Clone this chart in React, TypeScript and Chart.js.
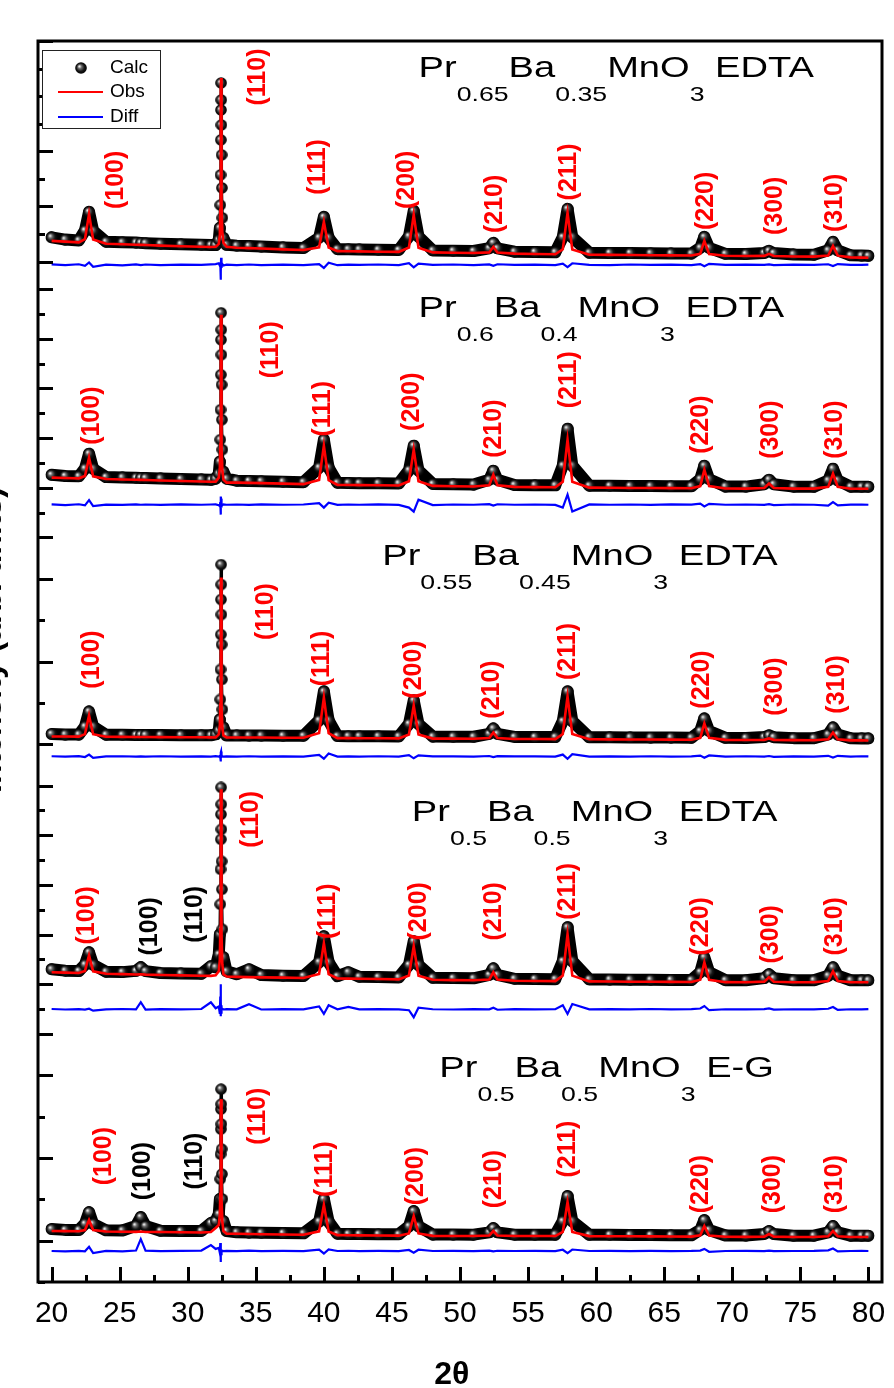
import { useEffect, useRef } from 'react';
import { Chart, registerables } from 'chart.js';

Chart.register(...registerables);

// ---------- shared 2-theta grid ----------
const twoTheta = [
  20.0, 21.0, 22.0, 22.45, 22.75, 23.05, 24.0, 25.2, 26.2, 26.55,
  26.9, 28.0, 29.5, 31.0, 31.7, 32.05, 32.28, 32.36, 32.39, 32.41,
  32.43, 32.44, 32.45, 32.46, 32.47, 32.49, 32.51, 32.54, 32.62, 32.85,
  33.6, 34.5, 35.4, 37.0, 38.5, 39.65, 40.0, 40.35, 41.0, 41.8,
  42.6, 44.0, 45.5, 46.25, 46.6, 46.95, 48.0, 49.5, 51.0, 52.15,
  52.45, 52.75, 54.0, 55.5, 57.0, 57.55, 57.9, 58.25, 59.5, 61.0,
  62.5, 64.0, 65.5, 67.0, 67.65, 67.95, 68.3, 69.5, 71.0, 72.35,
  72.7, 73.05, 74.5, 76.0, 77.05, 77.4, 77.75, 78.7, 79.5, 80.0,
];

// ---------- Panel 1: Pr0.65Ba0.35MnO3 EDTA ----------
const calcP1 = [
  880, 800, 770, 1130, 1804, 1115, 720, 700, 690, 680,
  670, 650, 630, 610, 600, 600, 790, 1225, 2050, 3145,
  4413, 5500, 6478, 5862, 4956, 3869, 2674, 1587, 862, 610,
  580, 565, 545, 515, 490, 870, 1623, 862, 452, 448,
  440, 432, 422, 918, 1840, 913, 405, 392, 385, 485,
  681, 481, 362, 350, 340, 889, 1913, 884, 322, 315,
  310, 304, 298, 292, 503, 899, 499, 282, 276, 313,
  391, 310, 262, 252, 410, 717, 406, 228, 218, 210,
];
const obsP1 = [
  754, 725, 699, 815, 1732, 805, 650, 630, 612, 606,
  600, 580, 560, 540, 530, 536, 645, 971, 1877, 3507,
  5319, 6297, 6659, 6152, 5138, 3507, 2058, 1080, 681, 536,
  505, 490, 475, 445, 420, 520, 1442, 510, 382, 376,
  370, 360, 352, 510, 1696, 505, 335, 322, 312, 334,
  536, 330, 290, 278, 268, 446, 1768, 441, 250, 243,
  238, 232, 227, 220, 282, 754, 279, 211, 205, 208,
  283, 206, 188, 180, 220, 572, 216, 155, 145, 138,
];
const diffP1 = [
  -100, -130, -95, -150, -30, -190, -110, -135, -100, -125,
  -105, -130, -110, -120, -100, -90, -60, -150, -40, -260,
  -659, -380, 138, -50, -230, -90, -160, -80, -140, -110,
  -125, -105, -130, -110, -125, -90, -230, -40, -130, -110,
  -120, -105, -125, -60, -210, -70, -120, -105, -125, -100,
  -150, -95, -120, -110, -125, -70, -200, -60, -115, -125,
  -105, -120, -110, -125, -90, -170, -80, -120, -110, -120,
  -100, -130, -110, -120, -95, -160, -90, -115, -120, -110,
];

// ---------- Panel 2: Pr0.6Ba0.4MnO3 EDTA ----------
const calcP2 = [
  2520, 2475, 2460, 2775, 3374, 2765, 2430, 2415, 2402, 2398,
  2392, 2375, 2352, 2335, 2320, 2367, 2569, 3052, 3937, 5145,
  6554, 7963, 9050, 8366, 7359, 6151, 4742, 3535, 2649, 2367,
  2285, 2276, 2266, 2245, 2225, 2816, 3937, 2808, 2198, 2192,
  2185, 2180, 2173, 2704, 3696, 2700, 2156, 2142, 2130, 2321,
  2689, 2318, 2115, 2106, 2098, 2895, 4380, 2891, 2084, 2078,
  2072, 2068, 2064, 2060, 2350, 2891, 2347, 2050, 2046, 2144,
  2327, 2143, 2045, 2044, 2297, 2770, 2296, 2042, 2041, 2040,
];
const obsP2 = [
  2407, 2393, 2380, 2472, 3213, 2462, 2350, 2335, 2322, 2318,
  2312, 2295, 2272, 2255, 2240, 2247, 2407, 2810, 3736, 5548,
  7560, 8688, 8970, 8567, 7560, 5548, 3736, 2730, 2327, 2206,
  2205, 2196, 2186, 2165, 2145, 2318, 3696, 2310, 2118, 2112,
  2105, 2100, 2093, 2262, 3535, 2258, 2076, 2062, 2050, 2101,
  2528, 2098, 2035, 2026, 2018, 2245, 3937, 2241, 2004, 1998,
  1992, 1988, 1984, 1980, 2068, 2730, 2065, 1970, 1966, 1989,
  2166, 1988, 1965, 1964, 2036, 2569, 2035, 1962, 1961, 1960,
];
const diffP2 = [
  1330, 1300, 1335, 1290, 1500, 1260, 1320, 1310, 1330, 1315,
  1325, 1310, 1330, 1315, 1325, 1330, 1300, 1250, 1420, 1100,
  918, 1643, 1560, 1200, 1380, 1290, 1350, 1300, 1330, 1315,
  1325, 1310, 1330, 1315, 1325, 1380, 1200, 1400, 1310, 1325,
  1315, 1330, 1310, 1200, 1039, 1522, 1300, 1325, 1315, 1340,
  1280, 1335, 1315, 1325, 1310, 1200, 1723, 1039, 1330, 1315,
  1325, 1310, 1330, 1320, 1360, 1250, 1350, 1315, 1325, 1310,
  1340, 1300, 1325, 1315, 1280, 1420, 1290, 1320, 1325, 1315,
];

// ---------- Panel 3: Pr0.55Ba0.45MnO3 EDTA ----------
const calcP3 = [
  500, 470, 466, 857, 1585, 853, 457, 453, 449, 447,
  445, 442, 438, 433, 430, 473, 667, 1198, 2164, 3614,
  5304, 6995, 8686, 7720, 6270, 4821, 3131, 1681, 812, 425,
  425, 422, 419, 413, 407, 1155, 2551, 1149, 393, 390,
  387, 383, 378, 985, 2116, 983, 370, 366, 362, 501,
  763, 499, 353, 349, 345, 1116, 2551, 1114, 337, 333,
  329, 325, 321, 316, 641, 1246, 639, 309, 305, 345,
  425, 343, 295, 291, 472, 812, 470, 285, 283, 281,
];
const obsP3 = [
  377, 373, 369, 489, 1391, 485, 360, 356, 352, 350,
  348, 345, 341, 336, 333, 329, 473, 908, 1923, 4097,
  6512, 7720, 8058, 7478, 6029, 3855, 1923, 812, 425, 329,
  328, 325, 322, 316, 310, 539, 2261, 533, 296, 293,
  290, 286, 281, 470, 1874, 468, 273, 269, 265, 299,
  570, 297, 256, 252, 248, 494, 2309, 492, 240, 236,
  232, 228, 224, 219, 312, 1005, 310, 212, 208, 213,
  280, 211, 198, 194, 237, 570, 235, 188, 186, 184,
];
const diffP3 = [
  -580, -600, -575, -620, -500, -660, -590, -580, -600, -585,
  -595, -580, -600, -585, -595, -580, -600, -560, -640, -700,
  -831, -400, -348, -520, -660, -560, -610, -575, -600, -585,
  -595, -580, -600, -585, -595, -520, -700, -450, -600, -585,
  -595, -580, -600, -530, -680, -540, -590, -585, -595, -570,
  -620, -575, -590, -585, -595, -500, -700, -480, -600, -585,
  -595, -580, -600, -585, -550, -650, -540, -595, -580, -600,
  -570, -610, -585, -595, -560, -640, -560, -595, -580, -590,
];

// ---------- Panel 4: Pr0.5Ba0.5MnO3 EDTA ----------
const calcP4 = [
  2600, 2545, 2530, 2788, 3285, 2780, 2500, 2485, 2535, 2681,
  2527, 2450, 2432, 2420, 2722, 2681, 3205, 4010, 5218, 6627,
  7835, 8841, 9928, 9244, 8237, 6949, 5821, 4211, 3084, 2520,
  2400, 2601, 2370, 2342, 2330, 2886, 3929, 2879, 2320, 2480,
  2300, 2285, 2272, 2778, 3728, 2774, 2255, 2244, 2235, 2373,
  2641, 2370, 2218, 2210, 2202, 2933, 4292, 2929, 2192, 2186,
  2180, 2176, 2172, 2166, 2486, 3084, 2484, 2160, 2158, 2242,
  2399, 2240, 2157, 2157, 2340, 2681, 2338, 2157, 2157, 2157,
];
const obsP4 = [
  2480, 2465, 2450, 2527, 3164, 2519, 2420, 2405, 2392, 2400,
  2384, 2370, 2352, 2336, 2335, 2359, 2520, 3003, 4211, 6627,
  8841, 9727, 9848, 9526, 8237, 6023, 4010, 2802, 2399, 2310,
  2295, 2285, 2275, 2262, 2250, 2411, 3648, 2404, 2230, 2222,
  2215, 2205, 2192, 2347, 3527, 2343, 2175, 2164, 2155, 2188,
  2480, 2185, 2138, 2130, 2122, 2347, 4010, 2343, 2112, 2106,
  2100, 2096, 2092, 2086, 2180, 2883, 2178, 2080, 2078, 2101,
  2279, 2100, 2077, 2077, 2130, 2520, 2130, 2077, 2077, 2077,
];
const diffP4 = [
  1000, 980, 995, 975, 1010, 930, 985, 1000, 985, 1272,
  975, 995, 985, 1000, 1272, 1030, 1100, 800, 1500, 709,
  1997, 1300, 850, 1150, 900, 1050, 960, 1010, 980, 995,
  985, 1192, 980, 995, 985, 1100, 800, 1150, 990, 1080,
  985, 995, 985, 950, 668, 1050, 990, 980, 995, 985,
  1050, 970, 995, 985, 995, 1150, 800, 1200, 985, 995,
  985, 1000, 985, 995, 1020, 1120, 950, 990, 985, 995,
  1020, 975, 990, 985, 1010, 1080, 960, 990, 985, 995,
];

// ---------- Panel 5: Pr0.5Ba0.5MnO3 E-G ----------
const calcP5 = [
  560, 520, 512, 815, 1382, 810, 500, 492, 714, 1140,
  710, 474, 465, 470, 850, 947, 1285, 2010, 2976, 4179,
  5391, 6358, 7324, 6599, 5633, 4425, 3217, 2010, 947, 464,
  400, 390, 380, 365, 352, 926, 2010, 918, 330, 325,
  320, 312, 305, 696, 1430, 694, 295, 292, 290, 400,
  609, 400, 288, 288, 288, 941, 2155, 940, 284, 280,
  276, 271, 266, 261, 517, 995, 513, 251, 246, 320,
  464, 318, 240, 240, 403, 705, 402, 240, 240, 240,
];
const obsP5 = [
  464, 458, 452, 514, 995, 509, 440, 432, 425, 440,
  421, 414, 405, 395, 420, 609, 754, 1285, 2251, 3942,
  5874, 6696, 6841, 6454, 5391, 3701, 2010, 947, 464, 335,
  330, 320, 312, 300, 288, 450, 1720, 442, 265, 260,
  255, 248, 240, 350, 1188, 348, 230, 226, 224, 251,
  464, 251, 222, 222, 222, 418, 1865, 417, 218, 214,
  210, 205, 200, 195, 254, 705, 250, 185, 180, 193,
  319, 192, 174, 174, 209, 464, 208, 174, 174, 174,
];
const diffP5 = [
  -500, -520, -495, -515, -300, -600, -500, -515, -480, 77,
  -480, -505, -495, -480, -213, -400, -350, -600, -116, -300,
  -1034, -400, -650, -450, -560, -480, -520, -490, -505, -495,
  -505, -480, -505, -495, -505, -440, -620, -420, -500, -490,
  -505, -495, -505, -450, -580, -440, -500, -495, -505, -480,
  -520, -490, -500, -495, -505, -440, -600, -430, -500, -495,
  -505, -495, -505, -495, -480, -400, -540, -500, -495, -505,
  -480, -510, -500, -495, -470, -380, -520, -500, -495, -500,
];

// ---------- axes / ticks ----------
const xTickValues = [20, 25, 30, 35, 40, 45, 50, 55, 60, 65, 70, 75, 80];
const xMinorValues = [22.5, 27.5, 32.5, 37.5, 42.5, 47.5, 52.5, 57.5, 62.5, 67.5, 72.5, 77.5];
const panelRanges = [[-1000, 8000], [0, 10000], [-2000, 10000], [0, 10000], [-2000, 10000]];
const panelMinor = [1000, 1000, 2000, 1000, 2000];
const panelMajor = [2000, 2000, 4000, 2000, 4000];

// ---------- texts ----------
const titleP1 = ['Pr', '0.65', 'Ba', '0.35', 'MnO', '3', ' EDTA'];
const titleP2 = ['Pr', '0.6', 'Ba', '0.4', 'MnO', '3', ' EDTA'];
const titleP3 = ['Pr', '0.55', 'Ba', '0.45', 'MnO', '3', ' EDTA'];
const titleP4 = ['Pr', '0.5', 'Ba', '0.5', 'MnO', '3', ' EDTA'];
const titleP5 = ['Pr', '0.5', 'Ba', '0.5', 'MnO', '3', ' E-G'];
const titleX = [46.96, 46.96, 44.29, 46.46, 48.48];
const titleY = [6706, 8889, 8686, 8559, 7904];

const hklText = ['(100)', '(110)', '(111)', '(200)', '(210)', '(211)', '(220)', '(300)', '(310)'];
const hklXP1 = [24.77, 35.18, 39.59, 46.10, 52.60, 58.02, 68.07, 73.13, 77.54];
const hklYP1 = [2964, 6695, 3435, 2964, 2094, 3253, 2203, 2022, 2130];
const hklXP2 = [22.96, 36.12, 39.95, 46.46, 52.53, 58.02, 67.71, 72.84, 77.54];
const hklYP2 = [4904, 7561, 5185, 5467, 4380, 6353, 4541, 4340, 4340];
const hklXP3 = [22.96, 35.76, 39.88, 46.60, 52.39, 57.95, 67.78, 73.13, 77.69];
const hklYP3 = [4096, 6415, 4145, 3614, 2647, 4483, 3130, 2792, 2889];
const hklXP4 = [22.60, 34.68, 40.31, 46.96, 52.53, 57.95, 67.71, 72.84, 77.54];
const hklYP4 = [4775, 8640, 4936, 4936, 4936, 5741, 4332, 4010, 4332];
const hklXP5 = [23.83, 35.18, 40.10, 46.75, 52.53, 57.95, 67.71, 72.99, 77.54];
const hklYP5 = [4087, 6019, 3459, 3121, 2976, 4425, 2734, 2734, 2734];

const secText = ['(100)', '(110)'];
const secXP4 = [27.23, 30.55];
const secYP4 = [4332, 4815];
const secXP5 = [26.72, 30.55];
const secYP5 = [3362, 3845];

const legendLabels = ['Calc', 'Obs', 'Diff'];
const xTitle = '2θ';
const yTitle = 'Intensity (arb. units)';

const FONT = '"Liberation Sans", Arial, sans-serif';

const panels = [
  { id: 'yP1', calc: calcP1, obs: obsP1, diff: diffP1, title: titleP1, hx: hklXP1, hy: hklYP1, sx: [] as number[], sy: [] as number[] },
  { id: 'yP2', calc: calcP2, obs: obsP2, diff: diffP2, title: titleP2, hx: hklXP2, hy: hklYP2, sx: [] as number[], sy: [] as number[] },
  { id: 'yP3', calc: calcP3, obs: obsP3, diff: diffP3, title: titleP3, hx: hklXP3, hy: hklYP3, sx: [] as number[], sy: [] as number[] },
  { id: 'yP4', calc: calcP4, obs: obsP4, diff: diffP4, title: titleP4, hx: hklXP4, hy: hklYP4, sx: secXP4, sy: secYP4 },
  { id: 'yP5', calc: calcP5, obs: obsP5, diff: diffP5, title: titleP5, hx: hklXP5, hy: hklYP5, sx: secXP5, sy: secYP5 },
];

function makeSphere(): HTMLCanvasElement {
  const c = document.createElement('canvas');
  c.width = 12;
  c.height = 12;
  const g = c.getContext('2d')!;
  const grad = g.createRadialGradient(4.3, 4.3, 0.4, 6, 6, 6);
  grad.addColorStop(0, '#f0f0f0');
  grad.addColorStop(0.28, '#6a6a6a');
  grad.addColorStop(0.65, '#151515');
  grad.addColorStop(1, '#000');
  g.fillStyle = grad;
  g.beginPath();
  g.arc(6, 6, 5.8, 0, Math.PI * 2);
  g.fill();
  return c;
}

export default function App() {
  const ref = useRef<HTMLCanvasElement>(null);

  useEffect(() => {
    const sphere = makeSphere();
    const toXY = (arr: number[]) => twoTheta.map((x, i) => ({ x, y: arr[i] }));

    const datasets: any[] = [];
    const scales: any = {
      x: {
        type: 'linear',
        min: 19,
        max: 81,
        grid: { display: false, drawTicks: false, tickLength: 0 },
        border: { display: false },
        afterBuildTicks: (axis: any) => {
          axis.ticks = xTickValues.map((v) => ({ value: v }));
        },
        ticks: {
          color: '#000',
          font: { family: FONT, size: 30 },
          padding: 14,
          maxRotation: 0,
          autoSkip: false,
        },
      },
    };

    panels.forEach((p, k) => {
      const [lo, hi] = panelRanges[k];
      const s = hi - lo;
      scales[p.id] = {
        type: 'linear',
        display: false,
        position: 'left',
        min: lo - (4 - k) * s,
        max: hi + k * s,
      };
      datasets.push({
        label: 'Obs',
        data: toXY(p.obs),
        yAxisID: p.id,
        borderColor: '#ff0000',
        borderWidth: 2.6,
        pointRadius: 0,
        tension: 0,
        order: 0,
      });
      datasets.push({
        label: 'Diff',
        data: toXY(p.diff),
        yAxisID: p.id,
        borderColor: '#0000ff',
        borderWidth: 2.2,
        pointRadius: 0,
        tension: 0,
        order: 1,
      });
      datasets.push({
        label: 'Calc',
        data: toXY(p.calc),
        yAxisID: p.id,
        borderColor: '#000',
        borderWidth: 12,
        borderJoinStyle: 'round',
        borderCapStyle: 'round',
        pointStyle: sphere,
        pointRadius: 6,
        tension: 0,
        order: 2,
        segment: {
          borderWidth: (c: any) => (c.p0DataIndex >= 17 && c.p1DataIndex <= 28 ? 3 : undefined),
        },
      });
    });

    const line = (ctx: CanvasRenderingContext2D, x1: number, y1: number, x2: number, y2: number) => {
      ctx.beginPath();
      ctx.moveTo(x1, y1);
      ctx.lineTo(x2, y2);
      ctx.stroke();
    };

    const decor = {
      id: 'decor',
      afterDraw(chart: any) {
        const ctx: CanvasRenderingContext2D = chart.ctx;
        const a = chart.chartArea;
        const xs = chart.scales.x;
        ctx.save();
        ctx.strokeStyle = '#000';
        ctx.lineWidth = 3;
        ctx.lineCap = 'butt';

        // y ticks (inward)
        panels.forEach((p, k) => {
          const sc = chart.scales[p.id];
          const [lo, hi] = panelRanges[k];
          for (let v = lo; v <= hi; v += panelMinor[k]) {
            const y = Math.round(sc.getPixelForValue(v)) + 0.5;
            const len = v % panelMajor[k] === 0 ? 15 : 7;
            line(ctx, a.left, y, a.left + len, y);
          }
        });
        // x ticks (inward)
        xTickValues.forEach((v) => {
          const x = Math.round(xs.getPixelForValue(v)) + 0.5;
          line(ctx, x, a.bottom, x, a.bottom - 15);
        });
        xMinorValues.forEach((v) => {
          const x = Math.round(xs.getPixelForValue(v)) + 0.5;
          line(ctx, x, a.bottom, x, a.bottom - 7);
        });
        // frame
        ctx.strokeRect(a.left, a.top, a.right - a.left, a.bottom - a.top);

        // hkl labels
        ctx.font = `bold 25px ${FONT}`;
        ctx.textAlign = 'center';
        ctx.textBaseline = 'middle';
        const drawRot = (text: string, x: number, y: number, color: string) => {
          ctx.save();
          ctx.translate(x, y);
          ctx.rotate(-Math.PI / 2);
          ctx.fillStyle = color;
          ctx.fillText(text, 0, 0);
          ctx.restore();
        };
        panels.forEach((p) => {
          const sc = chart.scales[p.id];
          hklText.forEach((t, j) => {
            drawRot(t, xs.getPixelForValue(p.hx[j]), sc.getPixelForValue(p.hy[j]), '#ff0000');
          });
          p.sx.forEach((xv, j) => {
            drawRot(secText[j], xs.getPixelForValue(xv), sc.getPixelForValue(p.sy[j]), '#000');
          });
        });

        // formula titles
        ctx.textAlign = 'left';
        ctx.textBaseline = 'alphabetic';
        ctx.fillStyle = '#000';
        panels.forEach((p, k) => {
          const sc = chart.scales[p.id];
          ctx.save();
          ctx.translate(xs.getPixelForValue(titleX[k]), sc.getPixelForValue(titleY[k]));
          ctx.scale(1.27, 1);
          let cx = 0;
          p.title.forEach((part, i) => {
            const sub = i % 2 === 1;
            ctx.font = sub ? `21px ${FONT}` : `30px ${FONT}`;
            ctx.fillText(part, cx, sub ? 24 : 0);
            cx += ctx.measureText(part).width;
          });
          ctx.restore();
        });

        // legend
        const lx = a.left + 4;
        const ly = a.top + 9;
        ctx.fillStyle = '#fff';
        ctx.fillRect(lx, ly, 118, 78);
        ctx.lineWidth = 1;
        ctx.strokeStyle = '#222';
        ctx.strokeRect(lx + 0.5, ly + 0.5, 118, 78);
        const rows = [ly + 18, ly + 42, ly + 67];
        ctx.drawImage(sphere, a.left + 43 - 6, rows[0] - 6);
        ctx.lineWidth = 2;
        ctx.strokeStyle = '#ff0000';
        line(ctx, a.left + 20, rows[1], a.left + 65, rows[1]);
        ctx.strokeStyle = '#0000ff';
        line(ctx, a.left + 20, rows[2], a.left + 65, rows[2]);
        ctx.fillStyle = '#000';
        ctx.font = `19px ${FONT}`;
        ctx.textBaseline = 'middle';
        legendLabels.forEach((t, i) => ctx.fillText(t, a.left + 72, rows[i]));

        // axis titles
        ctx.font = `bold 32px ${FONT}`;
        ctx.textAlign = 'center';
        ctx.textBaseline = 'alphabetic';
        ctx.fillText(xTitle, xs.getPixelForValue(49.4), 1384);
        ctx.save();
        ctx.translate(1, 640);
        ctx.rotate(-Math.PI / 2);
        ctx.fillText(yTitle, 0, 0);
        ctx.restore();

        ctx.restore();
      },
    };

    const chart = new Chart(ref.current!, {
      type: 'line',
      data: { datasets },
      options: {
        animation: false,
        responsive: false,
        devicePixelRatio: 1,
        events: [],
        layout: { padding: { left: 38, top: 41, right: 4, bottom: 42 } },
        plugins: { legend: { display: false }, tooltip: { enabled: false } },
        scales,
      },
      plugins: [decor],
    } as any);
    return () => chart.destroy();
  }, []);

  return (
    <div
      style={{
        position: 'absolute',
        left: 0,
        top: 0,
        width: 894,
        height: 1388,
        overflow: 'hidden',
        background: '#fff',
      }}
    >
      <canvas ref={ref} width={900} height={1388} style={{ display: 'block', width: 900, height: 1388 }} />
    </div>
  );
}
